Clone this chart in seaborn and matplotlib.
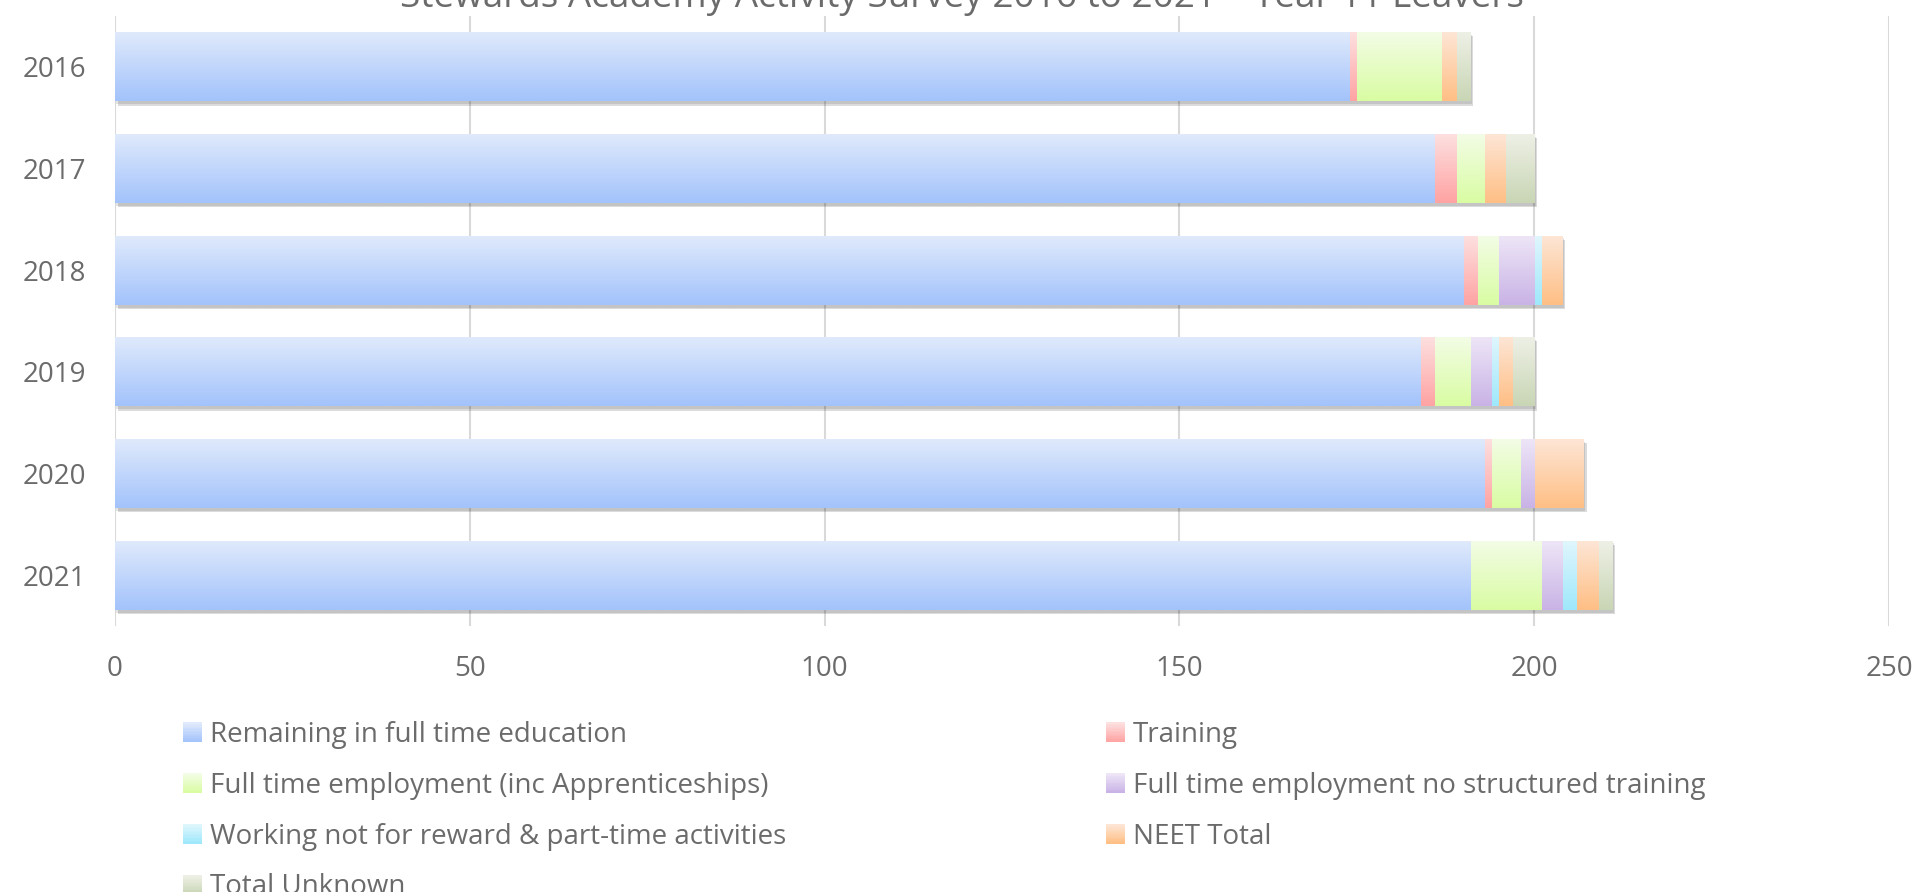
import numpy as np
import pandas as pd
import seaborn as sns
import matplotlib.pyplot as plt
import matplotlib.patheffects as pe
from matplotlib.colors import LinearSegmentedColormap
from matplotlib.patches import Patch, Rectangle
from matplotlib.legend_handler import HandlerBase

# data
years = ['2016', '2017', '2018', '2019', '2020', '2021']
education = [174, 186, 190, 184, 193, 191]
training = [1, 3, 2, 2, 1, 0]
employment = [12, 4, 3, 5, 4, 10]
employment_no_training = [0, 0, 5, 3, 2, 3]
working_not_reward = [0, 0, 1, 1, 0, 2]
neet = [2, 3, 3, 2, 7, 3]
unknown = [2, 4, 0, 3, 0, 2]

labels = ['Remaining in full time education', 'Training',
          'Full time employment (inc Apprenticeships)',
          'Full time employment no structured training',
          'Working not for reward & part-time activities',
          'NEET Total', 'Total Unknown']

# (top, bottom) of each gradient fill
grads = [('#e0eafc', '#a3c3fb'), ('#fde0e0', '#ffa3a3'),
         ('#f3fde6', '#d9fca3'), ('#eee6f7', '#c9b3e6'),
         ('#e0f6fd', '#9fe8fb'), ('#fde6d6', '#ffbf85'),
         ('#eef0e6', '#c9d6b5')]


class GradHandler(HandlerBase):
    # legend swatch with the same vertical gradient as the bars
    def __init__(self, top, bot):
        super().__init__()
        self.cmap = LinearSegmentedColormap.from_list('h', [top, bot])

    def create_artists(self, legend, orig_handle, xdescent, ydescent,
                       width, height, fontsize, trans):
        n = 14
        arts = []
        for k in range(n):
            r = Rectangle((-xdescent, -ydescent + height * (n - 1 - k) / n), width,
                          height / n * 1.05, facecolor=self.cmap(k / (n - 1)),
                          edgecolor='none', transform=trans)
            arts.append(r)
        return arts


df = pd.DataFrame({'year': years, labels[0]: education, labels[1]: training,
                   labels[2]: employment, labels[3]: employment_no_training,
                   labels[4]: working_not_reward, labels[5]: neet,
                   labels[6]: unknown})
cum = df[labels].cumsum(axis=1)
cum['year'] = df['year']

sns.set_style('white')
plt.rcParams['font.family'] = ['Open Sans', 'DejaVu Sans']
text_col = '#6b6b6b'

fig = plt.figure(figsize=(19.18, 8.92), dpi=100)
ax = fig.add_axes([115 / 1918, 1 - 626 / 892, (1889 - 115) / 1918, 610 / 892])

grad = np.linspace(0, 1, 64).reshape(-1, 1)
# draw the cumulative bars from the longest down so they stack visually
for i in reversed(range(len(labels))):
    top, bot = grads[i]
    n_before = len(ax.patches)
    sns.barplot(data=cum, x=labels[i], y='year', orient='h', color=bot,
                width=0.68, saturation=1, ax=ax)
    cmap = LinearSegmentedColormap.from_list('g%d' % i, [top, bot])
    for p in ax.patches[n_before:]:
        x0, y0 = p.get_x(), p.get_y()
        w, h = p.get_width(), p.get_height()
        p.set_edgecolor('none')
        if i == len(labels) - 1:
            p.set_path_effects([pe.SimplePatchShadow(offset=(2, -3), shadow_rgbFace='k', alpha=0.14),
                                pe.SimplePatchShadow(offset=(1, -2), shadow_rgbFace='k', alpha=0.1),
                                pe.Normal()])
        im = ax.imshow(grad, cmap=cmap, extent=(x0, x0 + w, y0 + h, y0), origin='upper',
                       aspect='auto', interpolation='bilinear', zorder=2)
        im.set_clip_path(p)

ax.set_xlim(0, 250)
ax.set_ylim(5.5, -0.5)
ax.set_xticks(range(0, 251, 50))
ax.xaxis.grid(True, color='#d9d9d9', lw=1.5)
ax.set_axisbelow(True)
for s in ax.spines.values():
    s.set_visible(False)
ax.set_xlabel('')
ax.set_ylabel('')
ax.tick_params(axis='both', length=0, labelsize=20, colors=text_col)
ax.tick_params(axis='x', pad=21)
ax.tick_params(axis='y', pad=21)

fig.text(962 / 1918, 1 - 7 / 892, 'Stewards Academy Activity Survey 2016 to 2021 \u2013 Year 11 Leavers',
         ha='center', va='baseline', fontsize=26.6, color=text_col)

# row-major order as in the reference: matplotlib fills columns first
order = [0, 2, 4, 6, 1, 3, 5]
handles = [Patch(facecolor=grads[k][1]) for k in range(len(labels))]
hmap = {handles[k]: GradHandler(*grads[k]) for k in range(len(labels))}
leg = fig.legend([handles[k] for k in order], [labels[k] for k in order], ncol=2,
                 loc='upper left', handler_map=hmap,
                 bbox_to_anchor=(183 / 1918, 1 - 721 / 892), frameon=False,
                 fontsize=20, labelcolor=text_col, handlelength=0.7, handleheight=0.7,
                 handletextpad=0.28, labelspacing=0.82, columnspacing=11.5, borderpad=0,
                 borderaxespad=0)

fig.savefig('out.png', dpi=100)
